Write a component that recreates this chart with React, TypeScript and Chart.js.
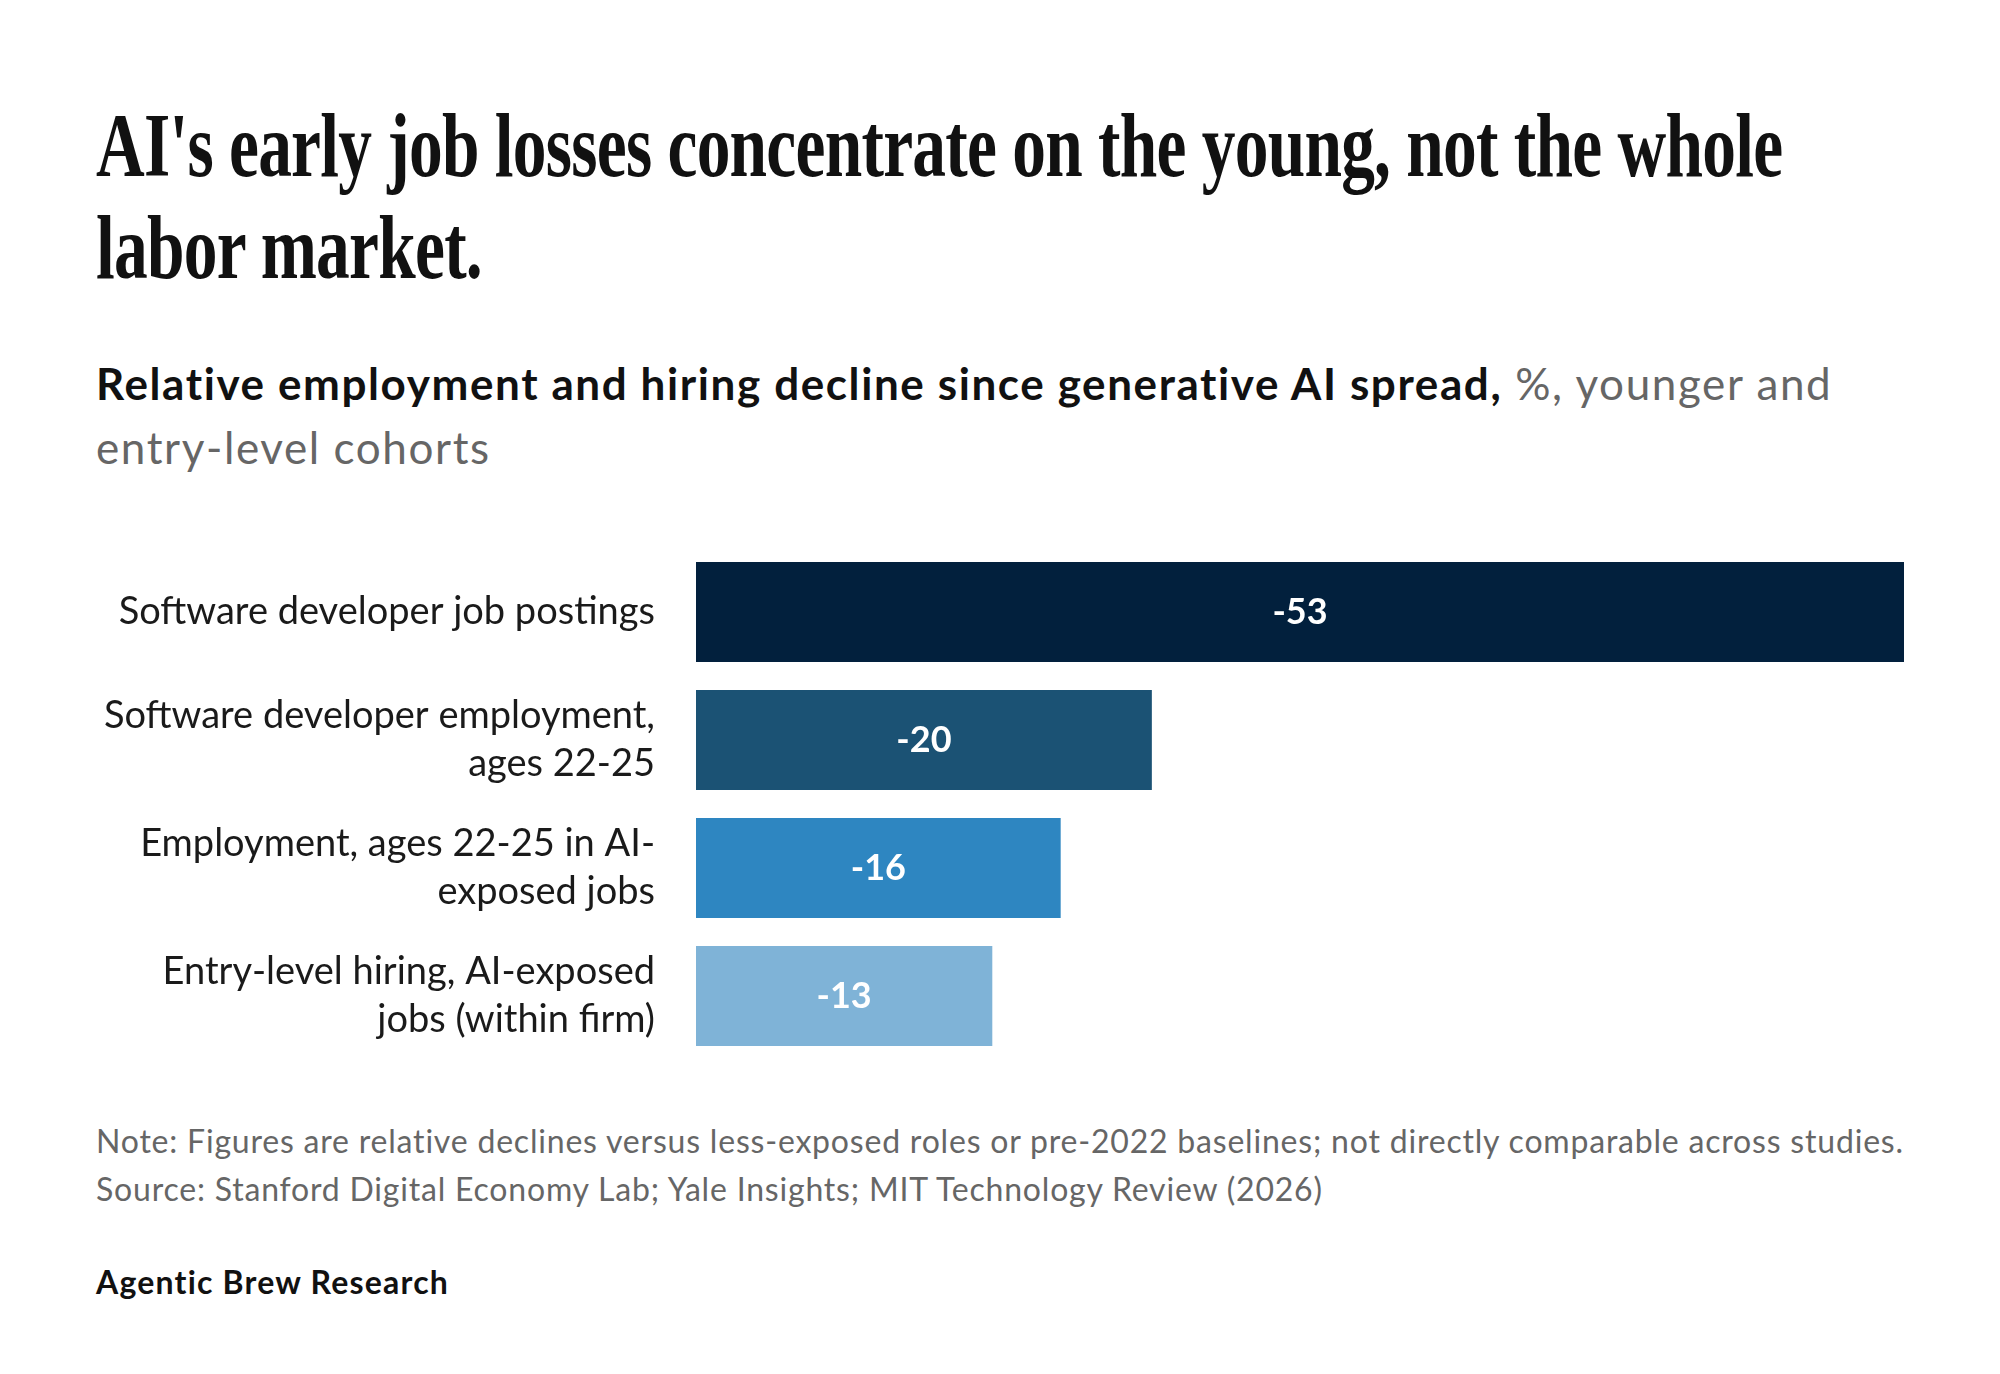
import React, { useEffect, useRef } from "react";
import { Chart, registerables } from "chart.js";

Chart.register(...registerables);

// Category labels (multi-line where the label wraps)
const categories: string[][] = [
  ["Software developer job postings"],
  ["Software developer employment,", "ages 22-25"],
  ["Employment, ages 22-25 in AI-", "exposed jobs"],
  ["Entry-level hiring, AI-exposed", "jobs (within firm)"],
];

// Relative decline, %
const values: number[] = [-53, -20, -16, -13];

const barColors: string[] = ["#02203D", "#1B5274", "#2E86C1", "#7FB3D7"];

const axisMin = -53;
const axisMax = 0;

const SANS = "Lato, 'Noto Sans', sans-serif";

// Writes each bar's value in white at the middle of the bar
const valueLabels = {
  id: "valueLabels",
  afterDatasetsDraw(chart: any) {
    const ctx = chart.ctx;
    const meta = chart.getDatasetMeta(0);
    ctx.save();
    ctx.font = `bold 36px ${SANS}`;
    ctx.fillStyle = "#ffffff";
    ctx.textAlign = "center";
    ctx.textBaseline = "middle";
    meta.data.forEach((bar: any, i: number) => {
      const { x, base, y } = bar.getProps(["x", "base", "y"], true);
      ctx.fillText(String(values[i]), (x + base) / 2, y);
    });
    ctx.restore();
  },
};

function BarChart() {
  const canvasRef = useRef<HTMLCanvasElement | null>(null);

  useEffect(() => {
    if (!canvasRef.current) return;
    const chart = new Chart(canvasRef.current, {
      type: "bar",
      data: {
        labels: categories,
        datasets: [
          {
            data: values,
            backgroundColor: barColors,
            borderWidth: 0,
            categoryPercentage: 1,
            barPercentage: 0.78,
          },
        ],
      },
      options: {
        indexAxis: "y",
        responsive: false,
        animation: false,
        layout: { padding: 0 },
        plugins: {
          legend: { display: false },
          tooltip: { enabled: false },
          title: { display: false },
        },
        scales: {
          x: {
            type: "linear",
            min: axisMin,
            max: axisMax,
            reverse: true,
            display: false,
          },
          y: {
            grid: { display: false, drawTicks: false },
            border: { display: false },
            ticks: {
              color: "#1a1a1a",
              padding: 41,
              font: { family: SANS, size: 38, lineHeight: 1.26 },
            },
            afterFit(scale: any) {
              // fixed label column; no extra vertical room for the labels
              scale.width = 600;
              scale.paddingTop = 0;
              scale.paddingBottom = 0;
            },
          },
        },
      },
      plugins: [valueLabels],
    });
    return () => chart.destroy();
  }, []);

  return (
    <canvas
      ref={canvasRef}
      width={1808}
      height={512}
      style={{ position: "absolute", left: 88, top: 540, width: 1808, height: 512 }}
    />
  );
}

export default function App() {
  return (
    <div
      style={{
        position: "relative",
        width: 1984,
        height: 1358,
        background: "#ffffff",
        overflow: "hidden",
      }}
    >
      <div
        style={{
          position: "absolute",
          left: 88,
          top: 87,
          fontFamily: "'Liberation Serif', serif",
          fontWeight: 700,
          fontSize: 90,
          lineHeight: "102px",
          color: "#111111",
          whiteSpace: "nowrap",
          letterSpacing: "-1px",
          transform: "scaleX(0.749)",
          transformOrigin: "left top",
        }}
      >
        AI's early job losses concentrate on the young, not the whole
        <br />
        labor market.
      </div>

      <div
        style={{
          position: "absolute",
          left: 88,
          top: 343,
          width: 1860,
          fontFamily: SANS,
          fontSize: 44,
          lineHeight: "64px",
          letterSpacing: "1.6px",
          color: "#666666",
          whiteSpace: "nowrap",
        }}
      >
        <span style={{ fontWeight: 700, color: "#111111" }}>
          Relative employment and hiring decline since generative AI spread,
        </span>{" "}
        %, younger and
        <br />
        entry-level cohorts
      </div>

      <BarChart />

      <div
        style={{
          position: "absolute",
          left: 88,
          top: 1109,
          width: 1880,
          fontFamily: SANS,
          fontSize: 32,
          lineHeight: "48px",
          letterSpacing: "0.8px",
          color: "#666666",
          whiteSpace: "nowrap",
        }}
      >
        Note: Figures are relative declines versus less-exposed roles or pre-2022 baselines; not directly comparable across studies.
        <br />
        Source: Stanford Digital Economy Lab; Yale Insights; MIT Technology Review (2026)
      </div>

      <div
        style={{
          position: "absolute",
          left: 88,
          top: 1254,
          fontFamily: SANS,
          fontWeight: 700,
          fontSize: 32,
          lineHeight: "40px",
          letterSpacing: "1.2px",
          color: "#111111",
        }}
      >
        Agentic Brew Research
      </div>
    </div>
  );
}
